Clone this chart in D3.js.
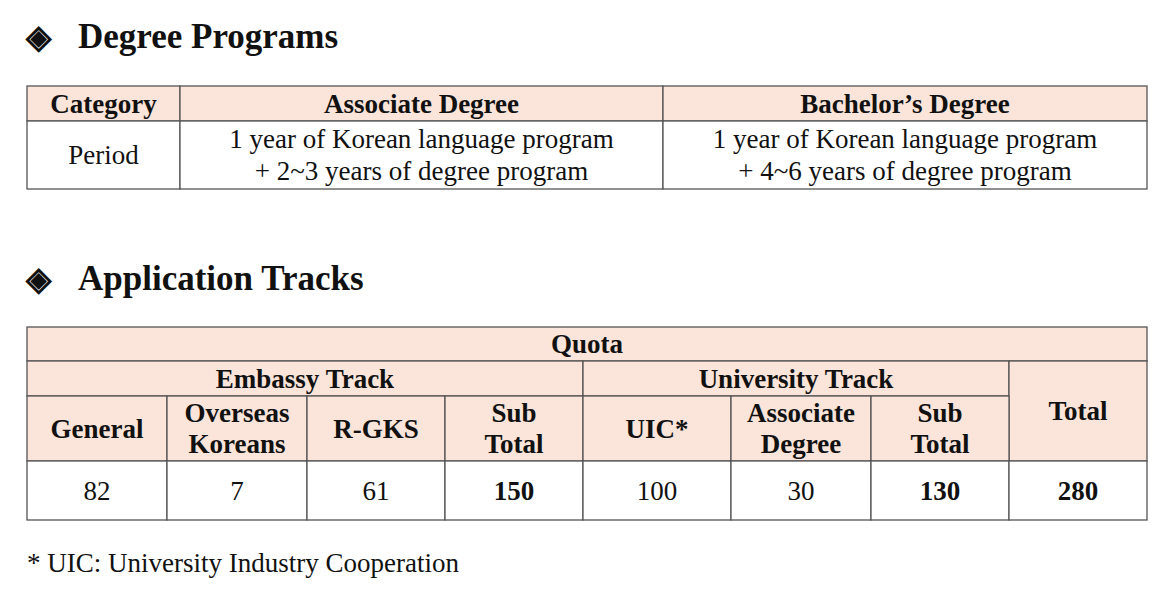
<!DOCTYPE html>
<html lang="en">
<head>
<meta charset="UTF-8" />
<title>Degree Programs</title>
<script src="https://d3js.org/d3.v7.min.js"></script>
<style>
  body { margin: 0; background: #fff; }
  text { font-family: "Liberation Serif", "Times New Roman", serif; fill: #111; }
</style>
</head>
<body>
<div id="chart"></div>
<script>
// data
var programHeaders = ["Category", "Associate Degree", "Bachelor\u2019s Degree"];
var programRow = [["Period"],
  ["1 year of Korean language program", "+ 2~3 years of degree program"],
  ["1 year of Korean language program", "+ 4~6 years of degree program"]];
var trackGroups = ["Embassy Track", "University Track"];
var trackHeaders = [["General"], ["Overseas", "Koreans"], ["R-GKS"], ["Sub", "Total"],
  ["UIC*"], ["Associate", "Degree"], ["Sub", "Total"]];
var trackValues = [82, 7, 61, 150, 100, 30, 130, 280];
var boldValues = [false, false, false, true, false, false, true, true];
var footnote = "* UIC: University Industry Cooperation";

var W = 1176, H = 608, fill = "#fbe4d9", stroke = "#555";
var svg = d3.select("#chart").append("svg").attr("width", W).attr("height", H);

function cell(x0, x1, y0, y1, lines, opt) {
  opt = opt || {};
  svg.append("rect").attr("x", x0).attr("y", y0).attr("width", x1 - x0).attr("height", y1 - y0)
    .attr("fill", opt.head ? fill : "#fff").attr("stroke", stroke).attr("stroke-width", 1.3);
  var lh = opt.lh || 31, cy = (y0 + y1) / 2, n = lines.length;
  lines.forEach(function(t, i) {
    svg.append("text").attr("x", (x0 + x1) / 2).attr("y", cy + (i - (n - 1) / 2) * lh)
      .attr("dy", "0.35em").attr("text-anchor", "middle")
      .attr("font-size", 27).attr("font-weight", opt.bold ? "bold" : "normal").text(t);
  });
}

function title(y, t) {
  svg.append("text").attr("x", 26).attr("y", y).attr("font-size", 33).attr("font-weight", "bold").text("\u25c8");
  svg.append("text").attr("x", 78).attr("y", y).attr("font-size", 35).attr("font-weight", "bold").text(t);
}

title(48, "Degree Programs");
var x1 = [27, 180, 663, 1147];
programHeaders.forEach(function(h, i) { cell(x1[i], x1[i + 1], 86, 121, [h], {head: true, bold: true}); });
programRow.forEach(function(l, i) { cell(x1[i], x1[i + 1], 121, 189, l, {lh: 32}); });

title(290, "Application Tracks");
var x2 = [27, 167, 307, 445, 583, 731, 871, 1009, 1147];
cell(27, 1147, 327, 361, ["Quota"], {head: true, bold: true});
cell(27, 583, 361, 396, [trackGroups[0]], {head: true, bold: true});
cell(583, 1009, 361, 396, [trackGroups[1]], {head: true, bold: true});
cell(1009, 1147, 361, 461, ["Total"], {head: true, bold: true});
trackHeaders.forEach(function(h, i) { cell(x2[i], x2[i + 1], 396, 461, h, {head: true, bold: true}); });
trackValues.forEach(function(v, i) { cell(x2[i], x2[i + 1], 461, 520, [String(v)], {bold: boldValues[i]}); });

svg.append("text").attr("x", 27).attr("y", 572).attr("font-size", 27).text(footnote);
</script>
</body>
</html>
